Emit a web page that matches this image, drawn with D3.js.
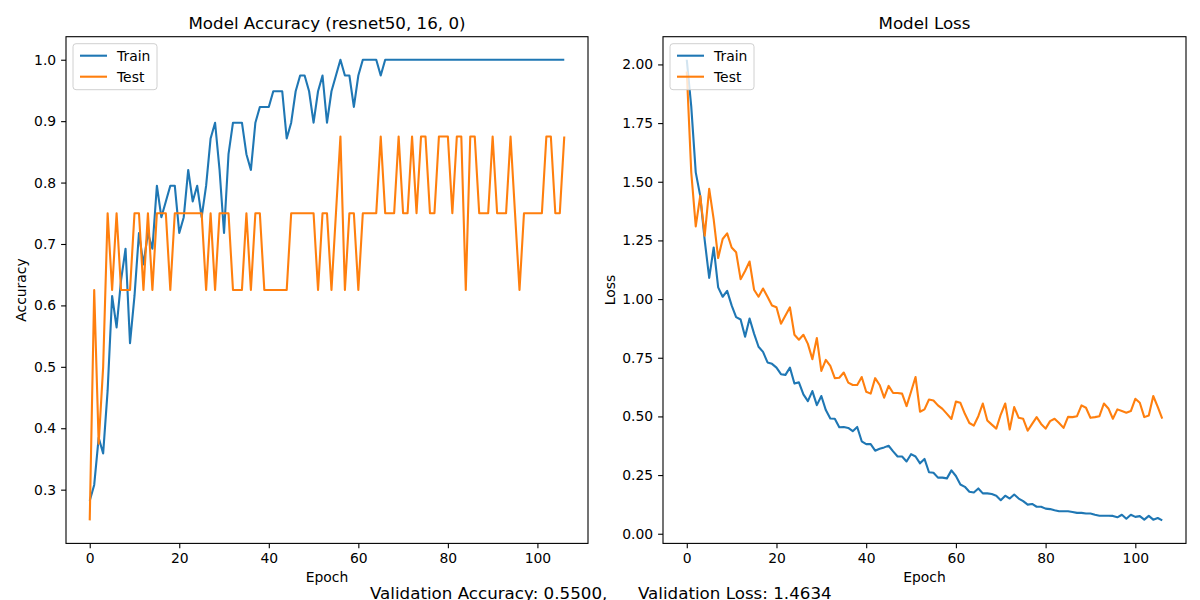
<!DOCTYPE html>
<html>
<head>
<meta charset="utf-8">
<script src="https://cdn.jsdelivr.net/npm/d3@7"></script>
<style>
  body { margin: 0; background: #fff; }
  svg { font-family: "DejaVu Sans", sans-serif; }
</style>
</head>
<body>
<svg id="chart" width="1200" height="600"></svg>
<script>
// accuracy values (train is n/39, test is n/8)
var trainCounts = [11,12,15,14,18,24,22,25,27,21, 24,28,26,28,27,31,29,30,31,31,
  28,29,32,30,31,29,31,34,35,32, 28,33,35,35,35,33,32,35,36,36,
  36,37,37,37,34,35,37,38,38,37, 35,37,38,35,37,38,39,38,38,36,
  38,39,39,39,39,38,39,39,39,39, 39,39,39,39,39,39,39,39,39,39,
  39,39,39,39,39,39,39,39,39,39, 39,39,39,39,39,39,39,39,39,39,
  39,39,39,39,39,39,39];
var trainAcc = trainCounts.map(function(c) { return c / 39; });
var testAcc = [0.25,0.625,0.375,0.5,0.75,0.625,0.75,0.625,0.625,0.625,
  0.75,0.75,0.625,0.75,0.625,0.75,0.75,0.75,0.625,0.75,
  0.75,0.75,0.75,0.75,0.75,0.75,0.625,0.75,0.625,0.75,
  0.75,0.75,0.625,0.625,0.625,0.75,0.625,0.75,0.75,0.625,
  0.625,0.625,0.625,0.625,0.625,0.75,0.75,0.75,0.75,0.75,
  0.75,0.625,0.75,0.75,0.625,0.75,0.875,0.625,0.75,0.75,
  0.625,0.75,0.75,0.75,0.75,0.875,0.75,0.75,0.75,0.875,
  0.75,0.75,0.875,0.75,0.875,0.875,0.75,0.75,0.875,0.875,
  0.875,0.75,0.875,0.875,0.625,0.875,0.875,0.75,0.75,0.75,
  0.875,0.75,0.75,0.75,0.875,0.75,0.625,0.75,0.75,0.75,
  0.75,0.75,0.875,0.875,0.75,0.75,0.875];

// loss values
var trainLoss = [2.02,1.82,1.54,1.44,1.25,1.09,1.22,1.05,1.01,1.035,
  0.973,0.923,0.913,0.84,0.917,0.853,0.797,0.775,0.73,0.724,
  0.708,0.68,0.677,0.708,0.64,0.645,0.594,0.565,0.608,0.548,
  0.587,0.527,0.491,0.49,0.454,0.455,0.451,0.437,0.455,0.394,
  0.382,0.382,0.354,0.362,0.368,0.375,0.351,0.329,0.329,0.308,
  0.339,0.329,0.30,0.319,0.262,0.26,0.239,0.239,0.236,0.27,
  0.246,0.21,0.2,0.179,0.176,0.193,0.172,0.172,0.169,0.162,
  0.143,0.162,0.15,0.167,0.15,0.139,0.124,0.127,0.115,0.115,
  0.107,0.105,0.10,0.096,0.096,0.096,0.093,0.089,0.089,0.086,
  0.086,0.081,0.077,0.077,0.077,0.076,0.07,0.081,0.064,0.081,
  0.072,0.075,0.06,0.076,0.06,0.067,0.057];
var testLoss = [1.97,1.54,1.31,1.44,1.27,1.47,1.34,1.175,1.256,1.28,
  1.22,1.20,1.085,1.12,1.16,1.04,1.01,1.045,1.01,0.973,
  0.965,0.895,0.93,0.965,0.848,0.827,0.848,0.809,0.744,0.834,
  0.694,0.741,0.715,0.663,0.665,0.687,0.644,0.634,0.634,0.668,
  0.605,0.597,0.663,0.634,0.58,0.63,0.60,0.60,0.597,0.544,
  0.605,0.668,0.52,0.53,0.572,0.568,0.547,0.532,0.511,0.489,
  0.563,0.558,0.511,0.472,0.461,0.501,0.555,0.483,0.465,0.448,
  0.508,0.555,0.444,0.54,0.494,0.49,0.439,0.468,0.497,0.468,
  0.448,0.48,0.49,0.472,0.451,0.498,0.497,0.501,0.547,0.537,
  0.494,0.497,0.501,0.555,0.534,0.49,0.53,0.523,0.516,0.523,
  0.575,0.558,0.497,0.504,0.587,0.541,0.491];

var xTicks = [0, 20, 40, 60, 80, 100];
var accTicks = [0.3, 0.4, 0.5, 0.6, 0.7, 0.8, 0.9, 1.0];
var lossTicks = [0, 0.25, 0.5, 0.75, 1.0, 1.25, 1.5, 1.75, 2.0];

var svg = d3.select("#chart");

function mplDomain(arrs) {
  var lo = d3.min(arrs, function(a) { return d3.min(a); });
  var hi = d3.max(arrs, function(a) { return d3.max(a); });
  var m = (hi - lo) * 0.05;
  return [lo - m, hi + m];
}

function drawPanel(opt) {
  var x = d3.scaleLinear().domain(mplDomain([[0, opt.a.length - 1]])).range([opt.left, opt.right]);
  var y = d3.scaleLinear().domain(mplDomain([opt.a, opt.b])).range([opt.bottom, opt.top]);

  var gx = svg.append("g")
    .attr("transform", "translate(0," + opt.bottom + ")")
    .call(d3.axisBottom(x).tickValues(xTicks).tickFormat(d3.format("d")).tickSize(4.9).tickPadding(4.9));
  var gy = svg.append("g")
    .attr("transform", "translate(" + opt.left + ",0)")
    .call(d3.axisLeft(y).tickValues(opt.ticks).tickFormat(d3.format(opt.fmt)).tickSize(4.9).tickPadding(4.9));
  [gx, gy].forEach(function(g) {
    g.select(".domain").remove();
    g.selectAll("text").attr("font-size", 13.9).attr("fill", "#000").attr("font-family", "DejaVu Sans");
    g.selectAll("line").attr("stroke", "#000").attr("stroke-width", 1.1);
  });

  var line = d3.line().x(function(d, i) { return x(i); }).y(function(d) { return y(d); });
  svg.append("path").datum(opt.a).attr("d", line)
    .attr("fill", "none").attr("stroke", "#1f77b4").attr("stroke-width", 2.1).attr("stroke-linejoin", "round");
  svg.append("path").datum(opt.b).attr("d", line)
    .attr("fill", "none").attr("stroke", "#ff7f0e").attr("stroke-width", 2.1).attr("stroke-linejoin", "round");

  svg.append("rect")
    .attr("x", opt.left).attr("y", opt.top)
    .attr("width", opt.right - opt.left).attr("height", opt.bottom - opt.top)
    .attr("fill", "none").attr("stroke", "#000").attr("stroke-width", 1.1);

  var cx = (opt.left + opt.right) / 2;
  svg.append("text").attr("x", cx).attr("y", opt.top - 8)
    .attr("text-anchor", "middle").attr("font-size", 16.7).text(opt.title);
  svg.append("text").attr("x", cx).attr("y", opt.bottom + 39)
    .attr("text-anchor", "middle").attr("font-size", 13.9).text("Epoch");
  svg.append("text")
    .attr("transform", "translate(" + opt.ylabX + "," + ((opt.top + opt.bottom) / 2) + ") rotate(-90)")
    .attr("text-anchor", "middle").attr("font-size", 13.9).text(opt.ylabel);

  // legend
  var lg = svg.append("g").attr("transform", "translate(" + (opt.left + 7) + "," + (opt.top + 7) + ")");
  lg.append("rect").attr("width", 84).attr("height", 46).attr("rx", 3)
    .attr("fill", "#fff").attr("fill-opacity", 0.8).attr("stroke", "#d0d0d0");
  [["Train", "#1f77b4"], ["Test", "#ff7f0e"]].forEach(function(e, i) {
    var yy = 12 + i * 21;
    lg.append("line").attr("x1", 7).attr("x2", 34).attr("y1", yy).attr("y2", yy)
      .attr("stroke", e[1]).attr("stroke-width", 2.1);
    lg.append("text").attr("x", 44).attr("y", yy + 5).attr("font-size", 13.9).text(e[0]);
  });
}

drawPanel({ a: trainAcc, b: testAcc, left: 66, right: 588, top: 36.7, bottom: 543.4,
  ticks: accTicks, fmt: ".1f", title: "Model Accuracy (resnet50, 16, 0)", ylabel: "Accuracy", ylabX: 26 });
drawPanel({ a: trainLoss, b: testLoss, left: 663, right: 1186, top: 36.7, bottom: 543.4,
  ticks: lossTicks, fmt: ".2f", title: "Model Loss", ylabel: "Loss", ylabX: 615 });

svg.append("text").attr("x", 370).attr("y", 599).attr("font-size", 16.7).text("Validation Accuracy: 0.5500,");
svg.append("text").attr("x", 638).attr("y", 599).attr("font-size", 16.7).text("Validation Loss: 1.4634");
</script>
</body>
</html>
